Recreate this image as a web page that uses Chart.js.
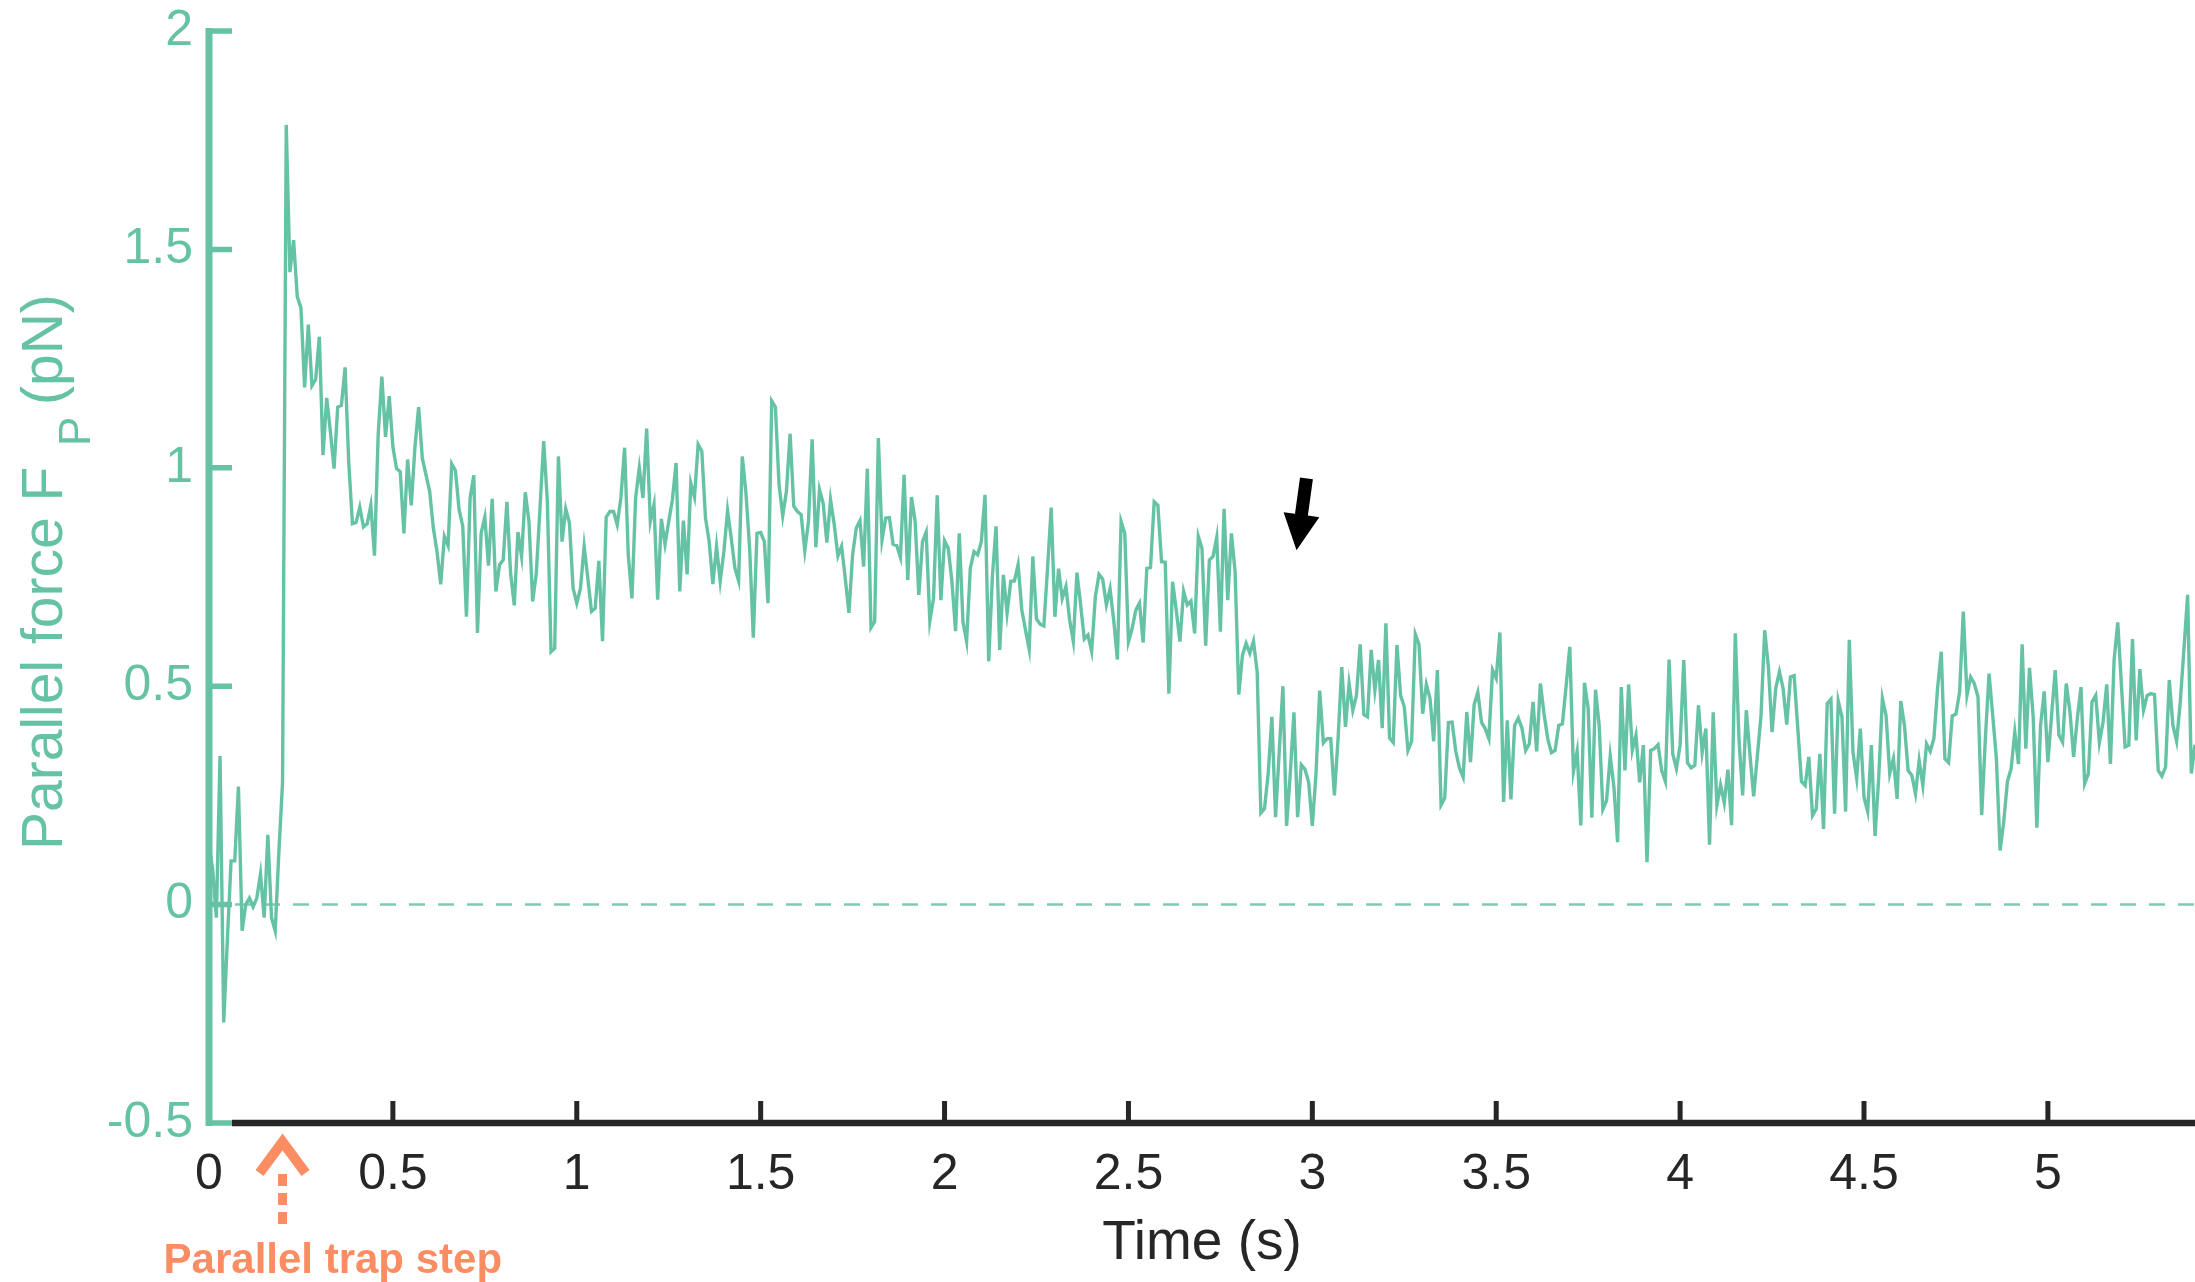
<!DOCTYPE html>
<html>
<head>
<meta charset="utf-8">
<title>Parallel force</title>
<script src="https://cdn.jsdelivr.net/npm/chart.js@4.4.1/dist/chart.umd.min.js"></script>
<style>
  html, body { margin: 0; padding: 0; background: #fff; }
  canvas { display: block; }
</style>
</head>
<body>
<canvas id="forceChart" width="2195" height="1282"></canvas>
<script>
// Signal échantillonné toutes les 10 ms à partir de t = 0
const sampleStart = 0;
const sampleStep = 0.01; // s

// Force parallèle F_P (pN)
const forceValues = [
    0.14, 0.08, -0.03, 0.34, -0.27, -0.08, 0.10, 0.10, 0.27, -0.06,
    0.00, 0.015, -0.005, 0.015, 0.07, -0.03, 0.16, -0.03, -0.06, 0.12,
    0.28, 1.785, 1.448, 1.521, 1.392, 1.366, 1.184, 1.328, 1.188, 1.202,
    1.30, 1.029, 1.16, 1.083, 0.998, 1.139, 1.143, 1.23, 1.012, 0.872,
    0.875, 0.91, 0.865, 0.872, 0.914, 0.799, 1.076, 1.209, 1.071, 1.164,
    1.048, 0.998, 0.991, 0.85, 1.019, 0.914, 1.048, 1.139, 1.022, 0.984,
    0.946, 0.862, 0.808, 0.733, 0.843, 0.822, 1.009, 0.994, 0.904, 0.866,
    0.659, 0.931, 0.983, 0.622, 0.851, 0.887, 0.776, 0.929, 0.717, 0.778,
    0.789, 0.922, 0.759, 0.685, 0.853, 0.797, 0.944, 0.877, 0.694, 0.759,
    0.908, 1.061, 0.923, 0.579, 0.587, 1.026, 0.831, 0.906, 0.874, 0.724,
    0.690, 0.724, 0.820, 0.747, 0.671, 0.678, 0.787, 0.603, 0.887, 0.900,
    0.900, 0.870, 0.931, 1.046, 0.801, 0.701, 0.931, 1.000, 0.931, 1.090,
    0.877, 0.916, 0.698, 0.883, 0.825, 0.877, 0.927, 1.011, 0.717, 0.879,
    0.756, 0.965, 0.933, 1.053, 1.038, 0.885, 0.831, 0.734, 0.820, 0.740,
    0.808, 0.902, 0.839, 0.770, 0.741, 1.026, 0.942, 0.816, 0.611, 0.850,
    0.852, 0.831, 0.690, 1.153, 1.139, 0.961, 0.890, 0.946, 1.078, 0.912,
    0.900, 0.893, 0.810, 0.877, 1.065, 0.818, 0.950, 0.919, 0.829, 0.927,
    0.870, 0.798, 0.820, 0.747, 0.668, 0.801, 0.862, 0.879, 0.774, 0.998,
    0.634, 0.648, 1.068, 0.835, 0.885, 0.886, 0.825, 0.822, 0.795, 0.984,
    0.743, 0.933, 0.877, 0.709, 0.831, 0.853, 0.649, 0.701, 0.937, 0.697,
    0.833, 0.816, 0.740, 0.626, 0.850, 0.648, 0.602, 0.770, 0.808, 0.801,
    0.831, 0.938, 0.557, 0.750, 0.866, 0.583, 0.755, 0.667, 0.740, 0.741,
    0.778, 0.675, 0.629, 0.585, 0.797, 0.654, 0.642, 0.638, 0.770, 0.909,
    0.659, 0.769, 0.701, 0.728, 0.652, 0.603, 0.760, 0.686, 0.608, 0.617,
    0.580, 0.705, 0.756, 0.745, 0.686, 0.723, 0.650, 0.561, 0.877, 0.850,
    0.602, 0.632, 0.674, 0.690, 0.600, 0.770, 0.772, 0.922, 0.914, 0.785,
    0.784, 0.483, 0.739, 0.674, 0.602, 0.717, 0.686, 0.695, 0.621, 0.843,
    0.816, 0.593, 0.789, 0.797, 0.841, 0.625, 0.906, 0.697, 0.850, 0.762,
    0.481, 0.571, 0.598, 0.575, 0.603, 0.533, 0.21, 0.22, 0.30, 0.43,
    0.20, 0.35, 0.50, 0.18, 0.30, 0.44, 0.20, 0.32, 0.31, 0.28,
    0.18, 0.30, 0.49, 0.37, 0.38, 0.38, 0.25, 0.38, 0.544, 0.407,
    0.506, 0.445, 0.479, 0.596, 0.435, 0.430, 0.583, 0.491, 0.560, 0.404,
    0.644, 0.381, 0.371, 0.594, 0.479, 0.453, 0.353, 0.374, 0.619, 0.596,
    0.437, 0.504, 0.472, 0.374, 0.537, 0.228, 0.244, 0.417, 0.418, 0.351,
    0.313, 0.292, 0.441, 0.326, 0.458, 0.486, 0.417, 0.403, 0.380, 0.537,
    0.518, 0.623, 0.235, 0.422, 0.241, 0.410, 0.427, 0.404, 0.353, 0.368,
    0.464, 0.351, 0.506, 0.437, 0.380, 0.348, 0.353, 0.410, 0.414, 0.500,
    0.590, 0.305, 0.351, 0.181, 0.508, 0.449, 0.199, 0.492, 0.410, 0.218,
    0.238, 0.340, 0.269, 0.143, 0.498, 0.307, 0.504, 0.353, 0.388, 0.280,
    0.365, 0.097, 0.353, 0.357, 0.366, 0.307, 0.282, 0.561, 0.345, 0.311,
    0.365, 0.560, 0.325, 0.313, 0.319, 0.456, 0.348, 0.403, 0.137, 0.440,
    0.227, 0.274, 0.233, 0.309, 0.182, 0.621, 0.380, 0.250, 0.445, 0.342,
    0.248, 0.340, 0.433, 0.628, 0.544, 0.395, 0.495, 0.533, 0.495, 0.412,
    0.521, 0.524, 0.403, 0.282, 0.273, 0.338, 0.204, 0.219, 0.345, 0.173,
    0.460, 0.470, 0.208, 0.466, 0.430, 0.213, 0.606, 0.349, 0.290, 0.403,
    0.246, 0.213, 0.365, 0.157, 0.290, 0.472, 0.433, 0.300, 0.334, 0.242,
    0.466, 0.410, 0.307, 0.296, 0.254, 0.330, 0.273, 0.368, 0.351, 0.380,
    0.495, 0.579, 0.334, 0.325, 0.432, 0.436, 0.487, 0.671, 0.479, 0.521,
    0.506, 0.475, 0.205, 0.380, 0.529, 0.433, 0.334, 0.124, 0.190, 0.282,
    0.311, 0.395, 0.322, 0.596, 0.357, 0.542, 0.430, 0.176, 0.410, 0.488,
    0.326, 0.433, 0.537, 0.388, 0.372, 0.506, 0.441, 0.338, 0.426, 0.498,
    0.277, 0.300, 0.464, 0.479, 0.371, 0.418, 0.504, 0.322, 0.560, 0.646,
    0.502, 0.361, 0.365, 0.608, 0.376, 0.539, 0.445, 0.479, 0.483, 0.481,
    0.307, 0.294, 0.315, 0.514, 0.410, 0.374, 0.464, 0.586, 0.709, 0.300,
    0.366
];

// Axes
const xMin = 0, xMax = 5.4;
const yMin = -0.5, yMax = 2;
const xTickValues = [0, 0.5, 1, 1.5, 2, 2.5, 3, 3.5, 4, 4.5, 5];
const xTickLabels = ['0', '0.5', '1', '1.5', '2', '2.5', '3', '3.5', '4', '4.5', '5'];
const yTickValues = [-0.5, 0, 0.5, 1, 1.5, 2];
const yTickLabels = ['-0.5', '0', '0.5', '1', '1.5', '2'];

// Annotations (coordonnées en unités de données)
const trapStepTime = 0.2;
const eventArrowTail = { x: 2.984, y: 0.976 };
const eventArrowTip = { x: 2.957, y: 0.811 };

const GREEN = '#66c2a5';
const ORANGE = '#fc8d62';
const DARK = '#262626';
const FONT = '"Liberation Sans", Arial, Helvetica, sans-serif';

const points = forceValues.map((v, i) => ({ x: +(sampleStart + i * sampleStep).toFixed(2), y: v }));

// Ligne pointillée à F = 0, sous la trace
const zeroLinePlugin = {
    id: 'zeroLine',
    beforeDatasetsDraw(chart) {
        const { ctx, chartArea: a, scales: { y } } = chart;
        const py = y.getPixelForValue(0);
        ctx.save();
        ctx.strokeStyle = 'rgba(102, 194, 165, 0.85)';
        ctx.lineWidth = 2.5;
        ctx.setLineDash([16, 13]);
        ctx.beginPath();
        ctx.moveTo(a.left + 26, py);
        ctx.lineTo(a.right, py);
        ctx.stroke();
        ctx.restore();
    }
};

// Axes style MATLAB, titres et flèches
const decorPlugin = {
    id: 'decor',
    afterDatasetsDraw(chart) {
        const { ctx, chartArea: a, scales: { x, y } } = chart;
        ctx.save();

        // Axe Y (vert) avec graduations vers l'intérieur
        ctx.strokeStyle = GREEN;
        ctx.lineWidth = 7;
        ctx.beginPath();
        ctx.moveTo(a.left, a.top - 3);
        ctx.lineTo(a.left, a.bottom + 3);
        ctx.stroke();
        ctx.lineWidth = 5.5;
        ctx.beginPath();
        yTickValues.forEach(v => {
            const py = y.getPixelForValue(v);
            ctx.moveTo(a.left, py);
            ctx.lineTo(a.left + 23, py);
        });
        ctx.stroke();

        // Axe X (noir), décalé après la graduation -0.5
        ctx.strokeStyle = DARK;
        ctx.lineWidth = 6.5;
        ctx.beginPath();
        ctx.moveTo(a.left + 23, a.bottom);
        ctx.lineTo(a.right, a.bottom);
        ctx.stroke();
        ctx.lineWidth = 5;
        ctx.beginPath();
        xTickValues.forEach(v => {
            const px = x.getPixelForValue(v);
            if (px < a.left + 23) return;
            ctx.moveTo(px, a.bottom);
            ctx.lineTo(px, a.bottom - 22);
        });
        ctx.stroke();

        // Titre de l'axe X
        ctx.fillStyle = DARK;
        ctx.font = `55px ${FONT}`;
        ctx.textAlign = 'center';
        ctx.textBaseline = 'middle';
        ctx.fillText('Time (s)', (a.left + a.right) / 2, 1244);

        // Titre de l'axe Y avec indice
        ctx.save();
        ctx.translate(62, 850);
        ctx.rotate(-Math.PI / 2);
        ctx.fillStyle = GREEN;
        ctx.textAlign = 'left';
        ctx.textBaseline = 'alphabetic';
        ctx.font = `57px ${FONT}`;
        ctx.fillText('Parallel force F', 0, 0);
        ctx.font = `44px ${FONT}`;
        ctx.fillText('P', 404, 28);
        ctx.font = `57px ${FONT}`;
        ctx.fillText('(pN)', 445, 0);
        ctx.restore();

        // Flèche orange : saut du piège parallèle
        const sx = x.getPixelForValue(trapStepTime);
        ctx.strokeStyle = ORANGE;
        ctx.lineWidth = 10;
        ctx.lineJoin = 'miter';
        ctx.beginPath();
        ctx.moveTo(sx - 23, 1173);
        ctx.lineTo(sx, 1142);
        ctx.lineTo(sx + 23, 1173);
        ctx.stroke();
        ctx.lineWidth = 9;
        ctx.setLineDash([12, 7]);
        ctx.beginPath();
        ctx.moveTo(sx, 1174);
        ctx.lineTo(sx, 1224);
        ctx.stroke();
        ctx.setLineDash([]);
        ctx.fillStyle = ORANGE;
        ctx.font = `bold 42px ${FONT}`;
        ctx.textAlign = 'left';
        ctx.textBaseline = 'alphabetic';
        ctx.fillText('Parallel trap step', sx - 119, 1273);

        // Flèche noire : chute de force
        const tx = x.getPixelForValue(eventArrowTail.x), ty = y.getPixelForValue(eventArrowTail.y);
        const hx = x.getPixelForValue(eventArrowTip.x), hy = y.getPixelForValue(eventArrowTip.y);
        const len = Math.hypot(hx - tx, hy - ty);
        const ux = (hx - tx) / len, uy = (hy - ty) / len;
        const nx = -uy, ny = ux;
        const headLen = 36, headHalf = 18, shaftHalf = 6.5;
        const bx = hx - ux * headLen, by = hy - uy * headLen;
        ctx.fillStyle = '#000';
        ctx.beginPath();
        ctx.moveTo(tx + nx * shaftHalf, ty + ny * shaftHalf);
        ctx.lineTo(bx + nx * shaftHalf, by + ny * shaftHalf);
        ctx.lineTo(bx + nx * headHalf, by + ny * headHalf);
        ctx.lineTo(hx, hy);
        ctx.lineTo(bx - nx * headHalf, by - ny * headHalf);
        ctx.lineTo(bx - nx * shaftHalf, by - ny * shaftHalf);
        ctx.lineTo(tx - nx * shaftHalf, ty - ny * shaftHalf);
        ctx.closePath();
        ctx.fill();

        ctx.restore();
    }
};

new Chart(document.getElementById('forceChart').getContext('2d'), {
    type: 'line',
    data: {
        datasets: [{
            data: points,
            borderColor: GREEN,
            borderWidth: 3.4,
            pointRadius: 0,
            tension: 0,
            fill: false
        }]
    },
    options: {
        responsive: false,
        animation: false,
        devicePixelRatio: 1,
        layout: { padding: { top: 31, right: 0, bottom: 0, left: 0 } },
        plugins: {
            legend: { display: false },
            tooltip: { enabled: false }
        },
        scales: {
            x: {
                type: 'linear',
                min: xMin,
                max: xMax,
                afterBuildTicks: scale => { scale.ticks = xTickValues.map(v => ({ value: v })); },
                afterFit: scale => {
                    scale.height = 159;
                    scale.paddingLeft = 0;
                    scale.paddingRight = 0;
                },
                grid: { display: false, drawTicks: false },
                border: { display: false },
                ticks: {
                    color: DARK,
                    font: { family: FONT, size: 50 },
                    padding: 22,
                    maxRotation: 0,
                    autoSkip: false,
                    callback: (value, index) => xTickLabels[index]
                }
            },
            y: {
                type: 'linear',
                min: yMin,
                max: yMax,
                afterBuildTicks: scale => { scale.ticks = yTickValues.map(v => ({ value: v })); },
                afterFit: scale => {
                    scale.width = 209;
                    scale.paddingTop = 0;
                    scale.paddingBottom = 0;
                },
                grid: { display: false, drawTicks: false },
                border: { display: false },
                ticks: {
                    color: GREEN,
                    font: { family: FONT, size: 50 },
                    padding: 16,
                    autoSkip: false,
                    callback: (value, index) => yTickLabels[index]
                }
            }
        }
    },
    plugins: [zeroLinePlugin, decorPlugin]
});
</script>
</body>
</html>
